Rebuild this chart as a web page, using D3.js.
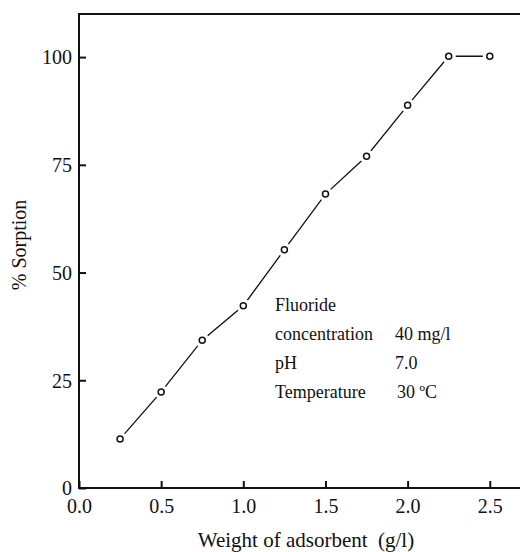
<!DOCTYPE html>
<html>
<head>
<meta charset="utf-8">
<script src="https://cdn.jsdelivr.net/npm/d3@7"></script>
<style>
  html, body { margin: 0; padding: 0; background: #fff; }
  svg { display: block; }
</style>
</head>
<body>
<svg id="chart" width="520" height="552"></svg>
<script>
const weights = [0.25, 0.5, 0.75, 1.0, 1.25, 1.5, 1.75, 2.0, 2.25, 2.5];
const sorption = [11.4, 22.3, 34.3, 42.3, 55.3, 68.2, 77.0, 88.8, 100.2, 100.2];
const xTicks = [0.0, 0.5, 1.0, 1.5, 2.0, 2.5];
const yTicks = [0, 25, 50, 75, 100];
const noteLabels = ["Fluoride", "concentration", "pH", "Temperature"];
const noteValues = ["", "40 mg/l", "7.0", "30 \u00BAC"];

const FONT = "'Liberation Serif'";
const svg = d3.select("#chart");
const margin = {left: 79, top: 14, bottom: 64};
const W = 520, H = 552;
const x = d3.scaleLinear().domain([0, 2.69]).range([margin.left, 521]);
const y = d3.scaleLinear().domain([0, 110]).range([H - margin.bottom, margin.top]);

// frame
svg.append("path")
  .attr("d", `M${x(2.69)+2},${y(110)} H${x(0)} V${y(0)} H${x(2.69)+2}`)
  .attr("fill", "none").attr("stroke", "#111").attr("stroke-width", 2);

// y axis
const yAxis = d3.axisRight(y).tickValues(yTicks).tickSize(7).tickFormat(d3.format("d"));
const gy = svg.append("g").attr("transform", `translate(${x(0)},0)`).call(yAxis);
gy.select(".domain").remove();
gy.selectAll(".tick line").attr("stroke", "#111").attr("stroke-width", 2);
gy.selectAll(".tick text")
  .attr("x", -7).attr("text-anchor", "end").attr("dy", "0.34em").attr("fill", "#111")
  .style("font-family", FONT).style("font-size", "20px");

// x axis
const xAxis = d3.axisTop(x).tickValues(xTicks).tickSize(7).tickFormat(d3.format(".1f"));
const gx = svg.append("g").attr("transform", `translate(0,${y(0)})`).call(xAxis);
gx.select(".domain").remove();
gx.selectAll(".tick line").attr("stroke", "#111").attr("stroke-width", 2);
gx.selectAll(".tick text")
  .attr("y", 25).attr("dy", 0).attr("text-anchor", "middle").attr("fill", "#111")
  .style("font-family", FONT).style("font-size", "20px");

// axis titles
svg.append("text")
  .attr("x", 306).attr("y", 547).attr("text-anchor", "middle").attr("fill", "#111")
  .style("font-family", FONT).style("font-size", "21px")
  .text("Weight of adsorbent\u00A0\u00A0(g/l)");
svg.append("text")
  .attr("transform", "translate(26,245) rotate(-90)")
  .attr("text-anchor", "middle").attr("fill", "#111")
  .style("font-family", FONT).style("font-size", "20px")
  .text("% Sorption");

// data
const pts = weights.map((w, i) => ({w, s: sorption[i]}));
svg.append("path")
  .datum(pts)
  .attr("d", d3.line().x(d => x(d.w)).y(d => y(d.s)))
  .attr("fill", "none").attr("stroke", "#111").attr("stroke-width", 1.3);
svg.selectAll("circle.halo").data(pts).join("circle")
  .attr("class", "halo")
  .attr("cx", d => x(d.w)).attr("cy", d => y(d.s)).attr("r", 7)
  .attr("fill", "#fff");
svg.selectAll("circle.mk").data(pts).join("circle")
  .attr("class", "mk")
  .attr("cx", d => x(d.w)).attr("cy", d => y(d.s)).attr("r", 3)
  .attr("fill", "#fff").attr("stroke", "#111").attr("stroke-width", 1.5);

// annotation
const noteY = [311, 340, 369, 398];
noteLabels.forEach((t, i) => {
  svg.append("text").attr("x", 275).attr("y", noteY[i]).attr("fill", "#111")
    .style("font-family", FONT).style("font-size", "18px").text(t);
  if (noteValues[i]) {
    svg.append("text").attr("x", i === 3 ? 397 : 395).attr("y", noteY[i]).attr("fill", "#111")
      .style("font-family", FONT).style("font-size", "18px").text(noteValues[i]);
  }
});
</script>
</body>
</html>
